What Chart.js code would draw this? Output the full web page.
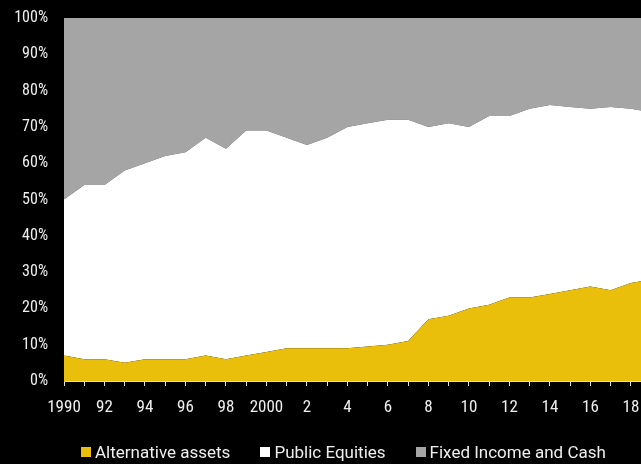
<!DOCTYPE html>
<html>
<head>
<meta charset="utf-8">
<script src="https://cdn.jsdelivr.net/npm/chart.js@4/dist/chart.umd.min.js"></script>
<style>
  html, body { margin: 0; padding: 0; background: #000; }
  #wrap { position: relative; width: 641px; height: 464px; overflow: hidden; background: #000; }
  #legend { position: absolute; left: 81px; top: 442px; height: 20px; line-height: 20px;
            display: flex; align-items: center;
            font-family: Roboto, sans-serif;
            font-size: 17px; color: #eeeeee; white-space: nowrap; }
  #legend .item { display: flex; align-items: center; margin-right: 30px; }
  #legend .box { width: 10px; height: 10px; margin-right: 4px; }
</style>
</head>
<body>
<div id="wrap">
  <canvas id="chart" width="641" height="464"></canvas>
  <div id="legend"></div>
</div>
<script>
// Share of portfolio by asset class, 1990-2019 (percent)
const years = [1990, 1991, 1992, 1993, 1994, 1995, 1996, 1997, 1998, 1999,
               2000, 2001, 2002, 2003, 2004, 2005, 2006, 2007, 2008, 2009,
               2010, 2011, 2012, 2013, 2014, 2015, 2016, 2017, 2018, 2019];
const alternativeAssets = [7, 6, 6, 5, 6, 6, 6, 7, 6, 7,
                           8, 9, 9, 9, 9, 9.5, 10, 11, 17, 18,
                           20, 21, 23, 23, 24, 25, 26, 25, 27, 28];
const publicEquities = [43, 48, 48, 53, 54, 56, 57, 60, 58, 62,
                        61, 58, 56, 58, 61, 61.5, 62, 61, 53, 53,
                        50, 52, 50, 52, 52, 50.5, 49, 50.5, 48, 46];
const fixedIncomeCash = [50, 46, 46, 42, 40, 38, 37, 33, 36, 31,
                         31, 33, 35, 33, 30, 29, 28, 28, 30, 29,
                         30, 27, 27, 25, 24, 24.5, 25, 24.5, 25, 26];
const seriesNames = ['Alternative assets', 'Public Equities', 'Fixed Income and Cash'];
const yTicks = [0, 10, 20, 30, 40, 50, 60, 70, 80, 90, 100];

const colors = ['#E9BF0B', '#FFFFFF', '#A5A5A5'];
const textColor = '#eeeeee';
// 'condensed' goes into the weight slot so the canvas font string selects Roboto's narrow width
const axisFont = size => ({ family: 'Roboto, sans-serif', size, weight: 'condensed' });

const toPoints = arr => years.map((yr, i) => ({ x: yr, y: arr[i] }));
const allSeries = [alternativeAssets, publicEquities, fixedIncomeCash];

const datasets = allSeries.map((arr, i) => ({
  label: seriesNames[i],
  data: toPoints(arr),
  backgroundColor: colors[i],
  borderColor: colors[i],
  borderWidth: 0,
  pointRadius: 0,
  fill: i === 0 ? 'origin' : '-1',
  tension: 0
}));

function yearLabel(v) {
  if (v % 2 !== 0) return '';
  if (v === 1990 || v === 2000) return String(v);
  return String(v % 100);
}

const chart = new Chart(document.getElementById('chart'), {
  type: 'line',
  data: { datasets },
  options: {
    responsive: false,
    animation: false,
    layout: { padding: { top: 18, right: 0, bottom: 0, left: 0 } },
    plugins: { legend: { display: false }, tooltip: { enabled: false } },
    elements: { line: { borderWidth: 0 } },
    scales: {
      x: {
        type: 'linear',
        min: 1990,
        max: 2018.5,
        afterBuildTicks: s => { s.ticks = years.filter(y => y <= 2018).map(v => ({ value: v })); },
        afterFit: s => { s.height = 83; s.paddingLeft = 0; s.paddingRight = 0; },
        grid: { drawOnChartArea: false, drawTicks: true, tickLength: 5, color: '#dddddd', lineWidth: 1 },
        border: { display: true, color: '#dddddd', width: 1 },
        ticks: {
          autoSkip: false, maxRotation: 0, minRotation: 0, padding: 12,
          color: textColor, font: axisFont(17),
          callback: v => yearLabel(v)
        }
      },
      y: {
        stacked: true,
        min: 0,
        max: 100,
        afterBuildTicks: s => { s.ticks = yTicks.map(v => ({ value: v })); },
        afterFit: s => { s.width = 64; s.paddingTop = 0; s.paddingBottom = 0; },
        grid: { drawOnChartArea: false, drawTicks: false },
        border: { display: true, color: '#bbbbbb', width: 1 },
        ticks: {
          padding: 16, color: textColor, font: axisFont(16),
          callback: v => v + '%'
        }
      }
    }
  }
});

// Legend built from the chart's datasets
const legend = document.getElementById('legend');
chart.data.datasets.forEach(ds => {
  const item = document.createElement('div');
  item.className = 'item';
  const box = document.createElement('span');
  box.className = 'box';
  box.style.background = ds.backgroundColor;
  const txt = document.createElement('span');
  txt.textContent = ds.label;
  item.appendChild(box);
  item.appendChild(txt);
  legend.appendChild(item);
});
</script>
</body>
</html>
